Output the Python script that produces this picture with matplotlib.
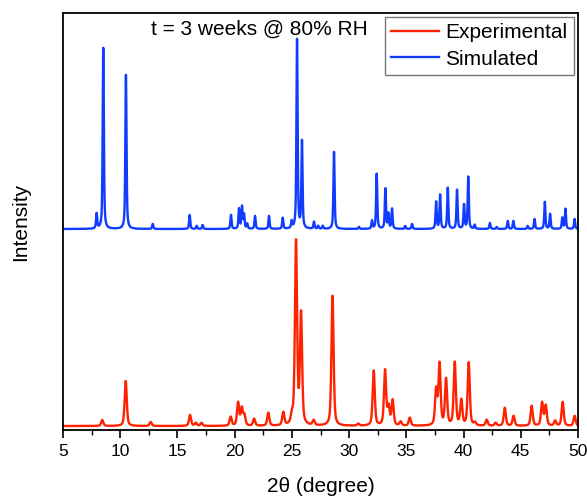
import numpy as np
import matplotlib
matplotlib.use('Agg')
import matplotlib.pyplot as plt

plt.rcParams['font.family'] = ['Liberation Sans', 'DejaVu Sans']

# peak list: 2theta position, height (a.u.)
sim_pos = [7.94, 8.52, 10.50, 12.84, 16.07, 16.68, 17.20, 19.68, 20.38, 20.64,
           20.82, 21.10, 21.78, 23.00, 24.20, 24.98, 25.45, 25.88, 26.93, 27.30,
           27.70, 28.68, 30.86, 32.00, 32.41, 33.17, 33.43, 33.75, 34.90, 35.50,
           37.60, 37.95, 38.62, 39.43, 40.04, 40.41, 40.97, 42.30, 42.90, 43.86,
           44.35, 45.60, 46.20, 47.10, 47.56, 48.63, 48.90, 49.70]
sim_int = [15, 181, 154, 5, 14, 3, 4, 14, 20, 22,
           14, 5, 13, 13, 11, 7, 189, 87, 7, 3,
           3, 77, 2, 8, 55, 40, 15, 20, 3, 5,
           27, 34, 41, 39, 24, 52, 4, 6, 2, 8,
           8, 3, 10, 27, 15, 11, 20, 10]

exp_pos = [8.43, 10.48, 12.66, 16.10, 16.60, 17.10, 19.65, 20.30, 20.62, 20.85,
           21.70, 22.94, 24.25, 25.00, 25.36, 25.80, 26.90, 28.55, 30.80, 32.15,
           33.14, 33.45, 33.80, 34.50, 35.30, 37.60, 37.90, 38.47, 39.23, 39.80,
           40.45, 41.00, 42.02, 42.80, 43.60, 44.37, 45.95, 46.86, 47.18, 48.00,
           48.66, 49.70]
exp_int = [6, 45, 4, 11, 3, 3, 9, 23, 17, 10,
           7, 13, 13, 8, 183, 110, 5, 130, 2, 55,
           55, 18, 25, 4, 8, 35, 61, 46, 63, 25,
           63, 3, 6, 3, 18, 10, 20, 23, 20, 5,
           24, 10]

sim_offset = 197


def pattern(tt, pos, heights, fwhm, eta):
    # pseudo-Voigt profile summed over all reflections
    y = np.zeros_like(tt)
    g = fwhm / 2
    s = fwhm / 2.3548
    for p, h in zip(pos, heights):
        lor = 1 / (1 + ((tt - p) / g) ** 2)
        gau = np.exp(-0.5 * ((tt - p) / s) ** 2)
        y += h * (eta * lor + (1 - eta) * gau)
    return y


tt = np.arange(5, 50.0001, 0.01)
y_exp = pattern(tt, exp_pos, exp_int, 0.22, 0.5)
y_sim = pattern(tt, sim_pos, sim_int, 0.12, 0.6) + sim_offset

fig = plt.figure(figsize=(5.87, 4.98), dpi=100)
ax = fig.add_axes([0.1073, 0.1365, 0.8774, 0.8374])

ax.plot(tt, y_exp, color='#ff2200', lw=1.7, label='Experimental')
ax.plot(tt, y_sim, color='#0f3cff', lw=1.7, label='Simulated')

ax.set_xlim(5, 50)
ax.set_ylim(-4, 413)
ax.set_xticks(np.arange(5, 51, 5))
ax.set_xticks(np.arange(5, 50.1, 2.5), minor=True)
ax.set_yticks([])
ax.tick_params(axis='x', which='major', direction='out', length=6, width=1.2,
               labelsize=12.5, pad=4)
ax.tick_params(axis='x', which='minor', direction='out', length=3.5, width=1.0)
for sp in ax.spines.values():
    sp.set_linewidth(1.3)

ax.set_xlabel('2\u03b8 (degree)', fontsize=15, labelpad=13)
ax.set_ylabel('Intensity', fontsize=15, labelpad=24)

ax.text(0.17, 0.985, 't = 3 weeks @ 80% RH', transform=ax.transAxes,
        fontsize=15, ha='left', va='top')

leg = ax.legend(loc='upper right', fontsize=15, frameon=True, fancybox=False,
                edgecolor='#555555', borderaxespad=0.2, handlelength=2.3,
                handletextpad=0.3, borderpad=0.3, labelspacing=0.35)
leg.get_frame().set_linewidth(1.0)

fig.savefig('out.png', dpi=100)
